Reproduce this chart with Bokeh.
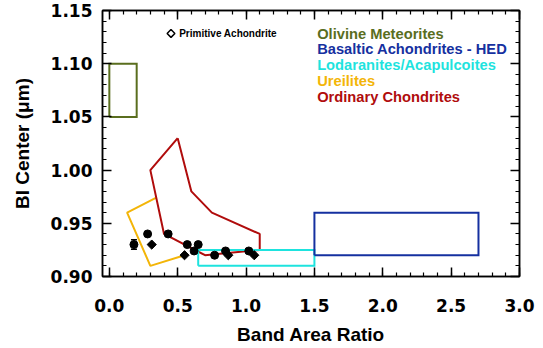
import numpy as np
from bokeh.plotting import figure
from bokeh.models import (Range1d, LinearAxis, FixedTicker, PrintfTickFormatter,
                          CustomJSTickFormatter, Label, Whisker, TeeHead, ColumnDataSource)
from bokeh.embed import file_html
from bokeh.resources import INLINE

# ---------------- data ----------------
x_tick_labels = ["0.0", "0.5", "1.0", "1.5", "2.0", "2.5", "3.0"]
y_tick_labels = ["0.90", "0.95", "1.00", "1.05", "1.10", "1.15"]

# boxes: left, right, bottom, top
olivine_box = [0.0, 0.2, 1.05, 1.10]
hed_box = [1.5, 2.7, 0.92, 0.96]
lodaranite_box = [0.65, 1.5, 0.91, 0.925]

ureilite_x = [0.34, 0.13, 0.30, 0.55]
ureilite_y = [0.974, 0.960, 0.910, 0.920]

chondrite_x = [0.50, 0.30, 0.40, 0.70, 1.10, 1.10, 0.75, 0.60, 0.50]
chondrite_y = [1.030, 1.000, 0.940, 0.920, 0.925, 0.940, 0.960, 0.980, 1.030]

# primitive achondrite measurements
circ_x = [0.18, 0.28, 0.43, 0.57, 0.65, 0.62, 0.77, 0.85, 1.02]
circ_y = [0.930, 0.940, 0.940, 0.930, 0.930, 0.924, 0.920, 0.924, 0.924]
diam_x = [0.31, 0.55, 0.87, 1.06]
diam_y = [0.930, 0.920, 0.920, 0.920]
err_x = [0.18]
err_y = [0.930]
err_size = [0.0045]

legend_names = ["Olivine Meteorites", "Basaltic Achondrites - HED",
                "Lodaranites/Acapulcoites", "Ureilites", "Ordinary Chondrites"]
legend_colors = ["#5A6E1E", "#1530A0", "#1EE3DE", "#F3B508", "#B00C0C"]
legend_x = 1.52
legend_y = [1.1283, 1.1135, 1.0986, 1.0837, 1.0687]
prim_label = "Primitive Achondrite"
prim_x = 0.451
prim_y = 1.1284

# ---------------- figure ----------------
p = figure(width=540, height=348,
           x_range=Range1d(-0.05, 3.0), y_range=Range1d(0.90, 1.15),
           output_backend="svg", toolbar_location=None,
           min_border_left=102, min_border_top=10, min_border_right=21,
           min_border_bottom=72)
p.xgrid.visible = False
p.ygrid.visible = False
p.outline_line_color = "black"
p.outline_line_width = 1.5
p.background_fill_color = "white"
p.border_fill_color = "white"

xt = [float(t) for t in x_tick_labels]
yt = [float(t) for t in y_tick_labels]
x_ticker = FixedTicker(ticks=xt, minor_ticks=list(np.round(np.arange(0.0, 3.001, 0.1), 3)))
y_ticker = FixedTicker(ticks=yt, minor_ticks=list(np.round(np.arange(0.90, 1.1501, 0.01), 3)))


def style_axis(ax, ticker, fmt, labels=True):
    ax.ticker = ticker
    ax.axis_line_color = "black"
    ax.axis_line_width = 1.5
    ax.major_tick_in = 9
    ax.major_tick_out = 0
    ax.minor_tick_in = 4
    ax.minor_tick_out = 0
    ax.major_tick_line_color = "black"
    ax.minor_tick_line_color = "black"
    ax.major_tick_line_width = 1.5
    ax.minor_tick_line_width = 1.2
    if labels:
        ax.formatter = PrintfTickFormatter(format=fmt)
        ax.major_label_text_font = "DejaVu Sans"
        ax.major_label_text_font_style = "bold"
        ax.major_label_text_font_size = "17px"
        ax.major_label_text_color = "black"
        ax.axis_label_text_font = "Liberation Sans"
        ax.axis_label_text_font_style = "bold"
        ax.axis_label_text_font_size = "19px"
        ax.axis_label_text_color = "black"
    else:
        ax.formatter = CustomJSTickFormatter(code="return ''")
        ax.major_label_text_font_size = "2px"
        ax.major_label_standoff = 0


xa = p.xaxis[0]
ya = p.yaxis[0]
style_axis(xa, x_ticker, "%.1f")
style_axis(ya, y_ticker, "%.2f")
xa.axis_label = "Band Area Ratio"
ya.axis_label = "BI Center (μm)"
xa.major_label_standoff = 22
xa.axis_label_standoff = 9
ya.major_label_standoff = 10
ya.axis_label_standoff = 15

top_ax = LinearAxis()
style_axis(top_ax, x_ticker, "%.1f", labels=False)
p.add_layout(top_ax, "above")
right_ax = LinearAxis()
style_axis(right_ax, y_ticker, "%.2f", labels=False)
p.add_layout(right_ax, "right")

# ---------------- regions ----------------
p.line(ureilite_x, ureilite_y, line_color=legend_colors[3], line_width=2)
p.line(chondrite_x, chondrite_y, line_color=legend_colors[4], line_width=2)


def box(b, color):
    l, r, bt, tp = b
    p.line([l, r, r, l, l], [bt, bt, tp, tp, bt], line_color=color, line_width=2,
           line_join="miter")


box(olivine_box, legend_colors[0])
box(lodaranite_box, legend_colors[2])
box(hed_box, legend_colors[1])

# ---------------- points ----------------
esrc = ColumnDataSource(dict(x=err_x, lo=[y - e for y, e in zip(err_y, err_size)],
                             up=[y + e for y, e in zip(err_y, err_size)]))
p.add_layout(Whisker(source=esrc, base="x", upper="up", lower="lo", dimension="height",
                     line_color="black", line_width=1.5,
                     upper_head=TeeHead(size=6, line_color="black", line_width=1.5),
                     lower_head=TeeHead(size=6, line_color="black", line_width=1.5)))
p.scatter(circ_x, circ_y, marker="circle", size=8, fill_color="black", line_color="black")
p.scatter(diam_x, diam_y, marker="square", angle=np.pi / 4, size=6.5,
          fill_color="black", line_color="black")

# ---------------- legend texts ----------------
p.scatter([prim_x], [prim_y], marker="square", angle=np.pi / 4, size=5.5,
          fill_color="white", line_color="black", line_width=1.5)
p.add_layout(Label(x=prim_x + 0.06, y=prim_y, text=prim_label, text_font="Liberation Sans",
                   text_font_style="bold", text_font_size="10px", text_color="black",
                   text_baseline="middle"))
for name, col, yy in zip(legend_names, legend_colors, legend_y):
    p.add_layout(Label(x=legend_x, y=yy, text=name, text_font="Liberation Sans",
                       text_font_style="bold", text_font_size="14.7px", text_color=col,
                       text_baseline="middle"))

open("out.html", "w").write(file_html(p, INLINE))
